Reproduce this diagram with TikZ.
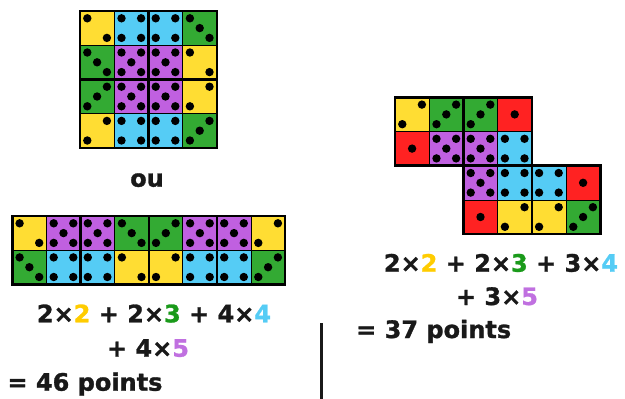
\documentclass[tikz,border=0pt]{standalone}
\usepackage{fontspec}
\setmainfont[BoldFeatures={FakeBold=1.2}]{DejaVu Sans}
\usepackage{tikz}
\usetikzlibrary{positioning}

\definecolor{dyel}{HTML}{FFDD33}
\definecolor{dblu}{HTML}{55CCF5}
\definecolor{dgrn}{HTML}{33AA33}
\definecolor{dpur}{HTML}{C060E0}
\definecolor{dred}{HTML}{FF2222}
\definecolor{tyel}{HTML}{FFCC00}
\definecolor{tgrn}{HTML}{1A9A1A}
\definecolor{tblu}{HTML}{55CCF5}
\definecolor{tpur}{HTML}{C070E0}

% pip offsets (in units of the pip step), y going down
\def\pone{0/0}
\def\ptwoa{-1/-1,1/1}
\def\ptwob{1/-1,-1/1}
\def\pthreea{-1/-1,0/0,1/1}
\def\pthreeb{1/-1,0/0,-1/1}
\def\pfour{-1/-1,1/-1,-1/1,1/1}
\def\pfive{-1/-1,1/-1,-1/1,1/1,0/0}

% one die face: top-left x, y, colour, pattern name
\newcommand{\dieface}[4]{%
  \edef\piplist{\csname p#4\endcsname}%
  \filldraw[fill=#3, draw=black, line width=0.7pt] (#1,#2) rectangle ++(34.2,34.2);
  \foreach \u/\v in \piplist
    \fill (#1+17.1+9.8*\u, #2+17.1+9.8*\v) circle[radius=4.2pt];
}

\begin{document}
\begin{tikzpicture}[x=1pt, y=-1pt,
  frame/.style={draw=black, line width=2.6pt},
  sep/.style={draw=black, line width=2.2pt},
  sum/.style={font=\fontsize{24}{28}\selectfont\bfseries, text=black!90, inner sep=0pt, anchor=base}]
\useasboundingbox (0,0) rectangle (625,399);

% square
\foreach \row [count=\j from 0] in {
  {dyel/twoa, dblu/four, dblu/four, dgrn/threea},
  {dgrn/threea, dpur/five, dpur/five, dyel/twoa},
  {dgrn/threeb, dpur/five, dpur/five, dyel/twob},
  {dyel/twob, dblu/four, dblu/four, dgrn/threeb}}
  \foreach \c/\p [count=\i from 0] in \row
    {\dieface{80+34.2*\i}{11+34.2*\j}{\c}{\p}}
\draw[sep] (148.4,11) -- (148.4,147.8);
\draw[sep] (80,79.4) -- (216.8,79.4);
\draw[frame] (80,11) rectangle (216.8,147.8);

\node[sum] (ou) at (147,186.7) {ou};

% strip
\foreach \row [count=\j from 0] in {
  {dyel/twoa, dpur/five, dpur/five, dgrn/threea, dgrn/threeb, dpur/five, dpur/five, dyel/twob},
  {dgrn/threea, dblu/four, dblu/four, dyel/twoa, dyel/twob, dblu/four, dblu/four, dgrn/threeb}}
  \foreach \c/\p [count=\i from 0] in \row
    {\dieface{12.3+34.1*\i}{216+34.1*\j}{\c}{\p}}
\foreach \k in {1,2,3}
  \draw[sep] (12.3+68.2*\k,216) -- (12.3+68.2*\k,284.2);
\draw[frame] (12.3,216) rectangle (285.1,284.2);

% stair shape
\foreach \row [count=\j from 0] in {
  {dyel/twob, dgrn/threeb, dgrn/threeb, dred/one},
  {dred/one, dpur/five, dpur/five, dblu/four}}
  \foreach \c/\p [count=\i from 0] in \row
    {\dieface{395+34.2*\i}{97.3+34.2*\j}{\c}{\p}}
\foreach \row [count=\j from 0] in {
  {dpur/five, dblu/four, dblu/four, dred/one},
  {dred/one, dyel/twob, dyel/twob, dgrn/threeb}}
  \foreach \c/\p [count=\i from 0] in \row
    {\dieface{463.4+34.2*\i}{165.7+34.2*\j}{\c}{\p}}
\draw[sep] (463.4,97.3) -- (463.4,165.7);
\draw[sep] (531.8,165.7) -- (531.8,234.1);
\draw[frame] (395,97.3) rectangle (531.8,165.7);
\draw[frame] (463.4,165.7) rectangle (600.2,234.1);

% scores
\node[sum] (suma) at (154,322.3) {2×\textcolor{tyel}{2} + 2×\textcolor{tgrn}{3} + 4×\textcolor{tblu}{4}};
\node[sum] (sumb) at (148,356.7) {+ 4×\textcolor{tpur}{5}};
\node[sum, anchor=base west] (tota) at (7.3,390.7) {= 46 points};

\node[sum] (sumc) at (501,271.7) {2×\textcolor{tyel}{2} + 2×\textcolor{tgrn}{3} + 3×\textcolor{tblu}{4}};
\node[sum] (sumd) at (497,305) {+ 3×\textcolor{tpur}{5}};
\node[sum, anchor=base west] (totb) at (356,338) {= 37 points};

\coordinate (bartop) at (321,323.3);
\coordinate (barbot) at (321,399);
\draw[line width=3pt, black!90] (bartop) -- (barbot);
\end{tikzpicture}
\end{document}
